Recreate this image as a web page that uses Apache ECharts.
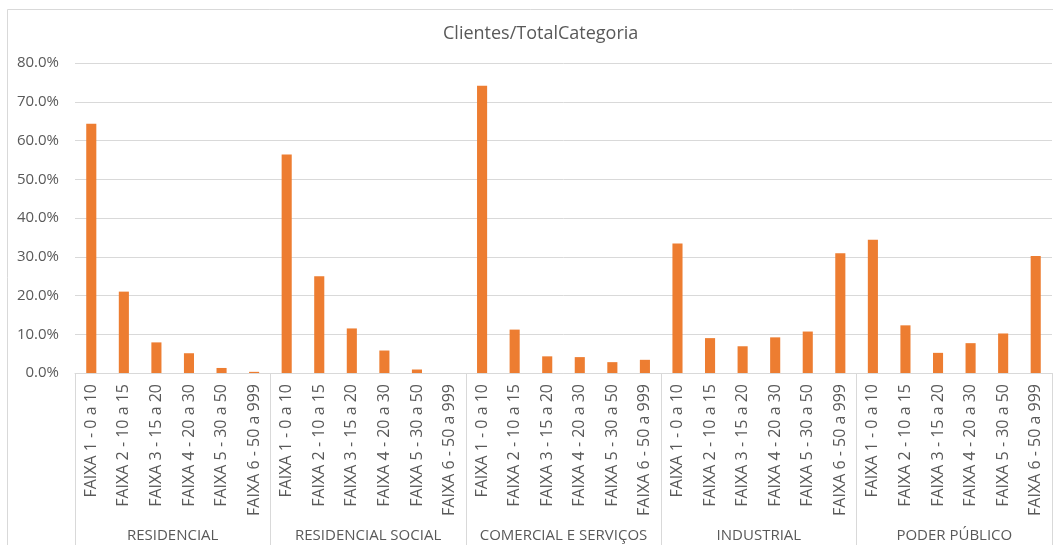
<!DOCTYPE html>
<html>
<head>
<meta charset="utf-8">
<script src="https://cdn.jsdelivr.net/npm/echarts@6/dist/echarts.min.js"></script>
<style>
  html, body { margin: 0; padding: 0; background: #fff; }
  #chart { width: 1053px; height: 545px; }
</style>
</head>
<body>
<div id="chart"></div>
<script>
// Consumption bands and customer categories
const faixas = [
  'FAIXA 1 - 0 a 10',
  'FAIXA 2 - 10 a 15',
  'FAIXA 3 - 15 a 20',
  'FAIXA 4 - 20 a 30',
  'FAIXA 5 - 30 a 50',
  'FAIXA 6 - 50 a 999'
];
const categorias = ['RESIDENCIAL', 'RESIDENCIAL SOCIAL', 'COMERCIAL E SERVIÇOS', 'INDUSTRIAL', 'PODER PÚBLICO'];

// Share of customers per band within each category (%)
const residencial       = [64.3, 21.0, 7.9, 5.1, 1.3, 0.3];
const residencialSocial = [56.4, 25.0, 11.5, 5.8, 0.9, 0.0];
const comercial         = [74.1, 11.2, 4.3, 4.1, 2.8, 3.4];
const industrial        = [33.4, 9.0, 6.9, 9.2, 10.7, 30.9];
const poderPublico      = [34.4, 12.3, 5.2, 7.7, 10.2, 30.2];

const yTicks = [0, 10, 20, 30, 40, 50, 60, 70, 80];

const groups = [residencial, residencialSocial, comercial, industrial, poderPublico];
const labels = [];
const values = [];
groups.forEach((g) => {
  g.forEach((v, i) => { labels.push(faixas[i]); values.push(v); });
});

const textColor = '#595959';
const fontFamily = '"Open Sans", sans-serif';

const chart = echarts.init(document.getElementById('chart'), null, { renderer: 'canvas' });
chart.setOption({
  animation: false,
  backgroundColor: '#fff',
  textStyle: { fontFamily: fontFamily },
  title: {
    text: 'Clientes/TotalCategoria',
    left: 438,
    top: 20,
    textStyle: { color: textColor, fontSize: 18, fontWeight: 'normal', fontFamily: fontFamily }
  },
  graphic: [{
    type: 'rect',
    shape: { x: 7.5, y: 9.5, width: 1100, height: 600 },
    style: { fill: 'none', stroke: '#d9d9d9', lineWidth: 1 },
    silent: true,
    z: -1
  }],
  grid: { left: 75, right: 1, top: 63, bottom: 172, containLabel: false },
  xAxis: [
    {
      type: 'category',
      data: labels,
      axisLine: { show: true, lineStyle: { color: '#d9d9d9', width: 1 } },
      axisTick: { show: false },
      axisLabel: {
        interval: 0,
        rotate: 90,
        margin: 11,
        color: textColor,
        fontSize: 16,
        fontFamily: fontFamily
      }
    },
    {
      type: 'category',
      data: categorias,
      position: 'bottom',
      axisLine: { show: false },
      axisTick: { show: true, length: 175, interval: 0, lineStyle: { color: '#d9d9d9', width: 1 } },
      axisLabel: {
        interval: 0,
        margin: 155,
        color: textColor,
        fontSize: 15,
        fontFamily: fontFamily
      }
    }
  ],
  yAxis: {
    type: 'value',
    min: yTicks[0],
    max: yTicks[yTicks.length - 1],
    interval: 10,
    axisLine: { show: false },
    axisTick: { show: false },
    splitLine: { lineStyle: { color: '#d9d9d9', width: 1 } },
    axisLabel: {
      margin: 16,
      color: textColor,
      fontSize: 15,
      fontFamily: fontFamily,
      formatter: (v) => v.toFixed(1) + '%'
    }
  },
  series: [{
    type: 'bar',
    xAxisIndex: 0,
    data: values,
    barWidth: '31%',
    itemStyle: { color: '#ed7d31' }
  }]
});
</script>
</body>
</html>
